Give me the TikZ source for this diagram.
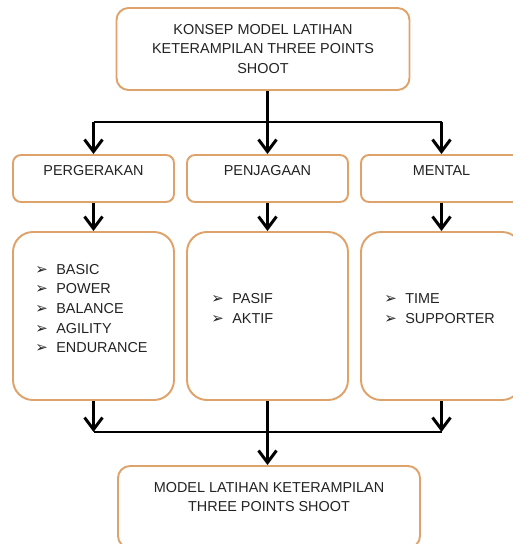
\documentclass[tikz,border=0pt]{standalone}
\usepackage{fontspec}
\setmainfont{Liberation Sans}
\newfontfamily\dingfont{DejaVu Sans}
\usetikzlibrary{arrows.meta}
\definecolor{boxline}{RGB}{222,163,107}
\definecolor{teks}{RGB}{35,35,35}
\newcommand{\bul}{\makebox[0.42cm][l]{\dingfont\fontsize{8.5}{8.5}\selectfont ➢}}

\begin{document}
\begin{tikzpicture}[every node/.style={font=\fontsize{8.2}{11.2}\selectfont,text=teks},
  box/.style={draw=boxline,line width=1.1pt,fill=white,align=center},
  lst/.style={align=left,anchor=west,inner sep=0pt},
  link/.style={line width=1.7pt},
  arr/.style={link,-{Straight Barb[length=2.4mm,width=3.6mm]}}]
  \useasboundingbox (0,0) rectangle (10.24,10.88);
  \node[box,rounded corners=0.24cm,minimum width=5.86cm,minimum height=1.64cm] (konsep) at (5.26,9.90) {KONSEP MODEL LATIHAN\\KETERAMPILAN THREE POINTS\\SHOOT};
  \node[box,rounded corners=0.16cm,minimum width=3.22cm,minimum height=0.94cm,text height=0.21cm,text depth=0.31cm] (gerak) at (1.87,7.31) {PERGERAKAN};
  \node[box,rounded corners=0.16cm,minimum width=3.22cm,minimum height=0.94cm,text height=0.21cm,text depth=0.31cm] (pen) at (5.35,7.31) {PENJAGAAN};
  \node[box,rounded corners=0.16cm,minimum width=3.22cm,minimum height=0.94cm,text height=0.21cm,text depth=0.31cm] (mental) at (8.83,7.31) {MENTAL};
  \node[box,rounded corners=0.4cm,minimum width=3.22cm,minimum height=3.36cm] (gerakisi) at (1.87,4.56) {};
  \node[box,rounded corners=0.4cm,minimum width=3.22cm,minimum height=3.36cm] (penisi) at (5.35,4.56) {};
  \node[box,rounded corners=0.4cm,minimum width=3.22cm,minimum height=3.36cm] (mentalisi) at (8.83,4.56) {};
  \node[lst] (gerakdaftar) at (0.70,4.71) {\bul BASIC\\\bul POWER\\\bul BALANCE\\\bul AGILITY\\\bul ENDURANCE};
  \node[lst] (pendaftar) at (4.22,4.71) {\bul PASIF\\\bul AKTIF};
  \node[lst] (mentaldaftar) at (7.68,4.71) {\bul TIME\\\bul SUPPORTER};
  \node[box,rounded corners=0.24cm,minimum width=6.04cm,minimum height=1.64cm] (hasil) at (5.38,0.74) {};
  \node[align=center] (hasilteks) at (5.38,0.94) {MODEL LATIHAN KETERAMPILAN\\THREE POINTS SHOOT};
  % cabang atas
  \coordinate (split) at (5.35,8.44);
  \coordinate (joint) at (5.35,2.24);
  \draw[link] (konsep.south -| split) -- (split);
  \draw[link] (split -| gerak.north) -- (split -| mental.north);
  \foreach \n in {gerak,pen,mental} \draw[arr] (split -| \n.north) -- (\n.north);
  \foreach \n in {gerak,pen,mental} \draw[arr] (\n.south) -- (\n isi.north);
  % gabung bawah
  \draw[arr] (gerakisi.south) -- (joint -| gerakisi.south);
  \draw[arr] (mentalisi.south) -- (joint -| mentalisi.south);
  \draw[link] (joint -| gerakisi.south) -- (joint -| mentalisi.south);
  \draw[arr] (penisi.south) -- (penisi.south |- hasil.north);
\end{tikzpicture}
\end{document}
